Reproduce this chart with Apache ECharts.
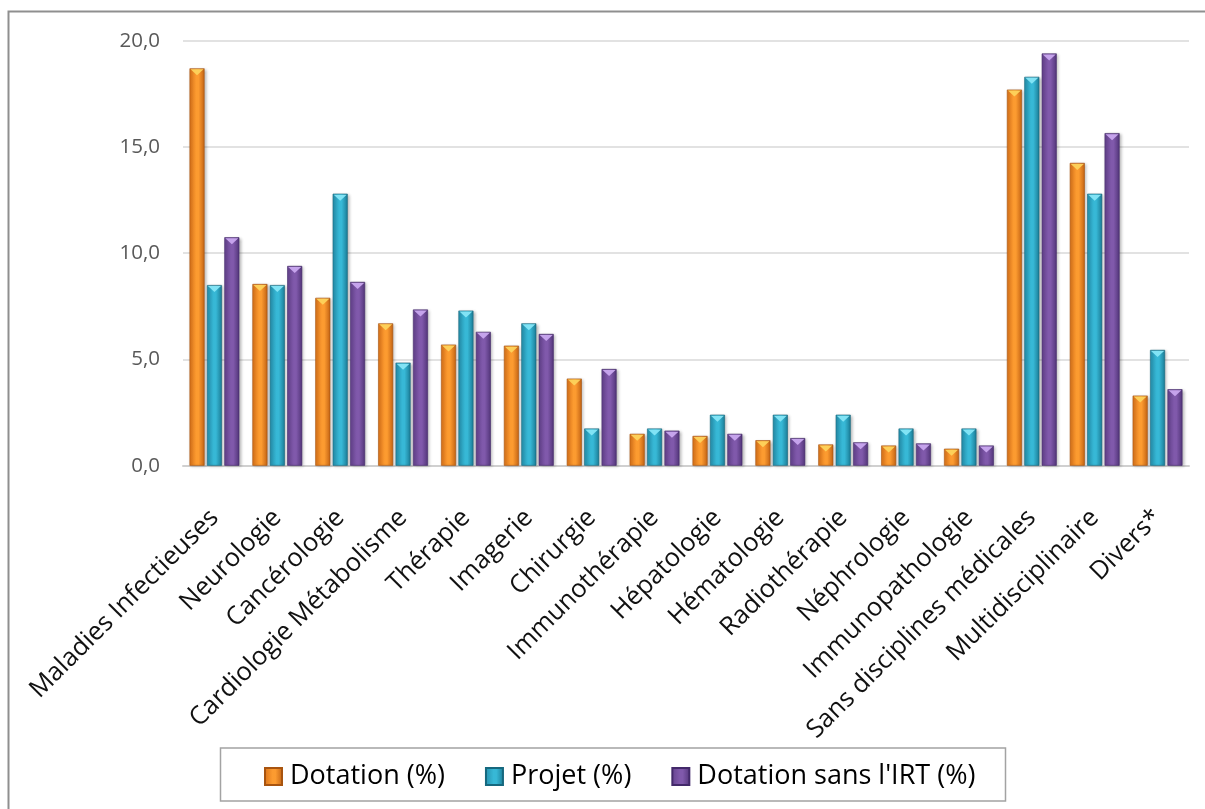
<!DOCTYPE html>
<html>
<head>
<meta charset="utf-8">
<script src="https://cdn.jsdelivr.net/npm/echarts@6/dist/echarts.min.js"></script>
<style>
  html, body { margin: 0; padding: 0; background: #ffffff; }
  #chart { width: 1205px; height: 809px; }
</style>
</head>
<body>
<div id="chart"></div>
<script>
// Disciplines (category axis)
const categories = [
  'Maladies Infectieuses', 'Neurologie', 'Cancérologie', 'Cardiologie Métabolisme',
  'Thérapie', 'Imagerie', 'Chirurgie', 'Immunothérapie', 'Hépatologie', 'Hématologie',
  'Radiothérapie', 'Néphrologie', 'Immunopathologie', 'Sans disciplines médicales',
  'Multidisciplinaire', 'Divers*'
];

// Series names
const seriesNames = ['Dotation (%)', 'Projet (%)', "Dotation sans l'IRT (%)"];

// Shares per discipline, in percent
const dotation = [18.7, 8.55, 7.9, 6.7, 5.7, 5.65, 4.1, 1.5, 1.4, 1.2, 1.0, 0.95, 0.8, 17.7, 14.25, 3.3];
const projet = [8.5, 8.5, 12.8, 4.85, 7.3, 6.7, 1.75, 1.75, 2.4, 2.4, 2.4, 1.75, 1.75, 18.3, 12.8, 5.45];
const dotationSansIRT = [10.75, 9.4, 8.65, 7.35, 6.3, 6.2, 4.55, 1.65, 1.5, 1.3, 1.1, 1.05, 0.95, 19.4, 15.65, 3.6];

// Value axis ticks
const yTicks = [0, 5, 10, 15, 20];

const FONT = '"Open Sans", "Noto Sans", sans-serif';

// Column shading: dark edge / bright middle / darker edge, plus a light bevel on top
const palettes = [
  { left: '#db731a', mid: '#fc9b30', right: '#c36314', cap: '#fdd35c', edge: '#a8540f' },
  { left: '#2590ad', mid: '#37b8d6', right: '#1b7c96', cap: '#86e6f7', edge: '#16687e' },
  { left: '#64428d', mid: '#8059ab', right: '#523579', cap: '#c9a8ef', edge: '#43296a' }
];

function shade(p) {
  return {
    type: 'linear', x: 0, y: 0, x2: 1, y2: 0,
    colorStops: [
      { offset: 0, color: p.left },
      { offset: 0.45, color: p.mid },
      { offset: 0.6, color: p.mid },
      { offset: 1, color: p.right }
    ]
  };
}

const seriesData = [dotation, projet, dotationSansIRT];
const BAR_W = 15;
const BAR_GAP = '16%';

const series = [];
seriesData.forEach((vals, i) => {
  series.push({
    name: seriesNames[i],
    type: 'bar',
    data: vals,
    barWidth: BAR_W,
    barGap: BAR_GAP,
    itemStyle: {
      color: shade(palettes[i]),
      borderColor: palettes[i].edge,
      borderWidth: 0.6,
      shadowColor: 'rgba(0,0,0,0.28)',
      shadowBlur: 3,
      shadowOffsetX: 1.5,
      shadowOffsetY: 1
    },
    emphasis: { disabled: true },
    z: 2
  });
});
// Bevel caps drawn at the top end of each column
seriesData.forEach((vals, i) => {
  series.push({
    name: seriesNames[i],
    type: 'pictorialBar',
    data: vals,
    barWidth: BAR_W,
    barGap: BAR_GAP,
    symbol: 'triangle',
    symbolRotate: 180,
    symbolSize: [BAR_W - 2, 6],
    symbolPosition: 'end',
    symbolOffset: [0, 1],
    itemStyle: { color: palettes[i].cap, opacity: 0.95 },
    emphasis: { disabled: true },
    silent: true,
    z: 3
  });
});

const chart = echarts.init(document.getElementById('chart'), null, { renderer: 'canvas' });
chart.setOption({
  animation: false,
  backgroundColor: '#ffffff',
  textStyle: { fontFamily: FONT },
  grid: { left: 183, right: 16, top: 40.7, bottom: 343.3, containLabel: false },
  legend: {
    data: seriesNames,
    left: 259,
    top: 758,
    icon: 'rect',
    itemWidth: 17,
    itemHeight: 17,
    itemGap: 40,
    textStyle: { fontFamily: FONT, fontSize: 27, color: '#000000', padding: [0, 0, 0, 3] }
  },
  xAxis: {
    type: 'category',
    data: categories,
    axisLine: { show: true, lineStyle: { color: '#d0d0d0', width: 2 } },
    axisTick: { show: false },
    axisLabel: {
      interval: 0,
      rotate: 45,
      margin: 48,
      fontFamily: FONT,
      fontSize: 25.5,
      color: '#111111'
    }
  },
  yAxis: {
    type: 'value',
    min: yTicks[0],
    max: yTicks[yTicks.length - 1],
    interval: yTicks[1] - yTicks[0],
    axisLine: { show: false },
    axisTick: { show: false },
    splitLine: { lineStyle: { color: '#d9d9d9', width: 1.5 } },
    axisLabel: {
      margin: 23,
      fontFamily: FONT,
      fontSize: 20.5,
      color: '#595959',
      formatter: v => v.toFixed(1).replace('.', ',')
    }
  },
  graphic: [
    {
      type: 'rect',
      shape: { x: 8.5, y: 11.5, width: 1300, height: 900 },
      style: { fill: null, stroke: '#8f8f8f', lineWidth: 2 },
      silent: true
    },
    {
      type: 'rect',
      shape: { x: 220.5, y: 748, width: 785, height: 53 },
      style: { fill: null, stroke: '#a3a3a3', lineWidth: 1.5 },
      silent: true
    }
  ],
  series: series
});
</script>
</body>
</html>
